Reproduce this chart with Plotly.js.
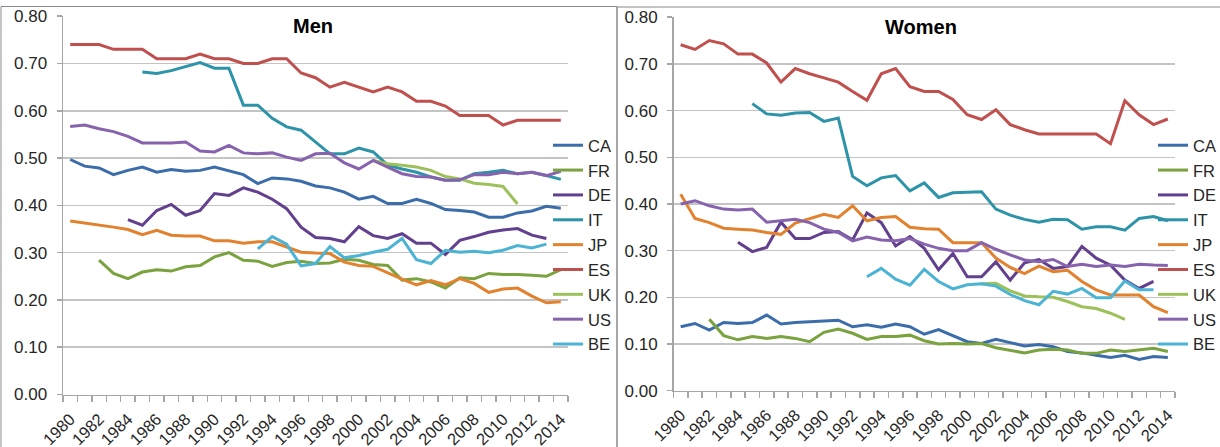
<!DOCTYPE html>
<html>
<head>
<meta charset="utf-8">
<script src="https://cdn.plot.ly/plotly-3.0.1.min.js"></script>
<style>
  html, body { margin: 0; padding: 0; background: #ffffff; }
  #chart { width: 1220px; height: 447px; }
</style>
</head>
<body>
<div id="chart"></div>
<script>
// ---- categories ----
const years = [1980,1981,1982,1983,1984,1985,1986,1987,1988,1989,
               1990,1991,1992,1993,1994,1995,1996,1997,1998,1999,
               2000,2001,2002,2003,2004,2005,2006,2007,2008,2009,
               2010,2011,2012,2013,2014];
const yearTicks = [1980,1982,1984,1986,1988,1990,1992,1994,1996,1998,
                   2000,2002,2004,2006,2008,2010,2012,2014];
const countries = ['CA','FR','DE','IT','JP','ES','UK','US','BE'];

// ---- Men ----
const CA_men = [0.497,0.483,0.479,0.465,0.474,0.481,0.470,0.476,0.472,0.474,
                0.481,0.473,0.465,0.446,0.458,0.456,0.451,0.441,0.437,0.428,
                0.413,0.419,0.404,0.404,0.413,0.404,0.391,0.389,0.386,0.375,
                0.375,0.384,0.388,0.398,0.394];
const FR_men = [null,null,0.284,0.256,0.245,0.259,0.264,0.261,0.270,0.273,
                0.291,0.300,0.284,0.282,0.271,0.279,0.282,0.277,0.278,0.286,
                0.284,0.275,0.273,0.242,0.245,0.238,0.225,0.247,0.245,0.256,
                0.254,0.254,0.252,0.250,0.264];
const DE_men = [null,null,null,null,0.370,0.358,0.389,0.402,0.379,0.389,
                0.425,0.421,0.437,0.428,0.413,0.393,0.354,0.332,0.330,0.323,
                0.355,0.336,0.330,0.340,0.320,0.320,0.296,0.326,0.334,0.343,
                0.348,0.351,0.337,0.330,null];
const IT_men = [null,null,null,null,null,0.682,0.679,0.685,0.694,0.702,
                0.690,0.690,0.612,0.612,0.584,0.566,0.559,0.534,0.509,0.509,
                0.521,0.513,0.485,0.477,0.470,0.460,0.453,0.453,0.467,0.470,
                0.474,0.467,0.470,0.463,0.455];
const JP_men = [0.367,0.363,0.359,0.354,0.349,0.338,0.347,0.337,0.335,0.335,
                0.325,0.325,0.320,0.323,0.323,0.312,0.301,0.299,0.298,0.280,
                0.273,0.271,0.257,0.244,0.232,0.241,0.232,0.245,0.235,0.216,
                0.223,0.225,0.208,0.194,0.196];
const ES_men = [0.74,0.74,0.74,0.73,0.73,0.73,0.71,0.71,0.71,0.72,
                0.71,0.71,0.70,0.70,0.71,0.71,0.68,0.67,0.65,0.66,
                0.65,0.64,0.65,0.64,0.62,0.62,0.61,0.59,0.59,0.59,
                0.57,0.58,0.58,0.58,0.58];
const UK_men = [null,null,null,null,null,null,null,null,null,null,
                null,null,null,null,null,null,null,null,null,null,
                null,0.495,0.488,0.485,0.481,0.474,0.461,0.456,0.447,0.444,
                0.440,0.403,null,null,null];
const US_men = [0.567,0.570,0.562,0.556,0.546,0.532,0.532,0.532,0.534,0.515,
                0.513,0.527,0.511,0.509,0.511,0.502,0.495,0.509,0.510,0.490,
                0.477,0.495,0.481,0.467,0.461,0.460,0.453,0.454,0.465,0.465,
                0.470,0.467,0.470,0.463,0.472];
const BE_men = [null,null,null,null,null,null,null,null,null,null,
                null,null,null,0.308,0.334,0.318,0.272,0.277,0.313,0.289,
                0.294,0.301,0.307,0.330,0.285,0.277,0.305,0.301,0.303,0.300,
                0.305,0.315,0.310,0.318,null];

// ---- Women ----
const CA_women = [0.137,0.144,0.130,0.146,0.144,0.146,0.162,0.143,0.146,0.148,
                  0.149,0.151,0.137,0.141,0.136,0.143,0.137,0.121,0.131,0.118,
                  0.105,0.101,0.110,0.103,0.096,0.099,0.094,0.084,0.081,0.076,
                  0.071,0.076,0.067,0.073,0.071];
const FR_women = [null,null,0.153,0.118,0.109,0.116,0.112,0.116,0.112,0.105,
                  0.125,0.132,0.123,0.110,0.116,0.116,0.119,0.107,0.100,0.101,
                  0.100,0.101,0.092,0.087,0.081,0.087,0.089,0.087,0.080,0.080,
                  0.087,0.084,0.087,0.091,0.084];
const DE_women = [null,null,null,null,0.318,0.298,0.307,0.361,0.326,0.326,
                  0.339,0.341,0.323,0.381,0.360,0.310,0.330,0.305,0.259,0.294,
                  0.244,0.244,0.276,0.237,0.274,0.281,0.262,0.266,0.309,0.284,
                  0.269,0.237,0.219,0.234,null];
const IT_women = [null,null,null,null,null,0.615,0.593,0.590,0.595,0.596,
                  0.577,0.584,0.459,0.439,0.456,0.461,0.428,0.445,0.414,0.424,
                  0.425,0.426,0.389,0.376,0.367,0.361,0.367,0.366,0.346,0.351,
                  0.351,0.344,0.369,0.373,0.364];
const JP_women = [0.421,0.369,0.360,0.348,0.346,0.344,0.339,0.335,0.359,0.369,
                  0.378,0.371,0.396,0.364,0.371,0.373,0.350,0.347,0.346,0.317,
                  0.317,0.317,0.284,0.264,0.251,0.267,0.255,0.258,0.234,0.216,
                  0.205,0.205,0.205,0.180,0.167];
const ES_women = [0.741,0.731,0.750,0.743,0.721,0.721,0.702,0.661,0.690,0.679,
                  0.670,0.661,0.641,0.622,0.679,0.690,0.651,0.641,0.641,0.624,
                  0.591,0.581,0.602,0.570,0.559,0.550,0.550,0.550,0.550,0.550,
                  0.529,0.621,0.591,0.570,0.582];
const UK_women = [null,null,null,null,null,null,null,null,null,null,
                  null,null,null,null,null,null,null,null,null,null,
                  null,0.229,0.230,0.214,0.203,0.201,0.200,0.191,0.180,0.176,
                  0.166,0.153,null,null,null];
const US_women = [0.400,0.407,0.396,0.389,0.387,0.389,0.361,0.364,0.367,0.360,
                  0.346,0.339,0.321,0.329,0.323,0.321,0.326,0.314,0.305,0.300,
                  0.300,0.317,0.303,0.291,0.280,0.276,0.281,0.266,0.271,0.266,
                  0.269,0.266,0.271,0.269,0.268];
const BE_women = [null,null,null,null,null,null,null,null,null,null,
                  null,null,null,0.244,0.262,0.239,0.226,0.260,0.234,0.218,
                  0.227,0.229,0.224,0.206,0.193,0.184,0.213,0.207,0.219,0.199,
                  0.199,0.235,0.216,0.216,null];

// ---- styling ----
const colors = {
  CA: '#3b6daa', FR: '#7aa23f', DE: '#62408e', IT: '#2c93a8', JP: '#e2822f',
  ES: '#c0504d', UK: '#9dc15a', US: '#8763ae', BE: '#4bb3d3'
};
const men = {CA: CA_men, FR: FR_men, DE: DE_men, IT: IT_men, JP: JP_men,
             ES: ES_men, UK: UK_men, US: US_men, BE: BE_men};
const women = {CA: CA_women, FR: FR_women, DE: DE_women, IT: IT_women, JP: JP_women,
               ES: ES_women, UK: UK_women, US: US_women, BE: BE_women};

const traces = [];
countries.forEach(c => {
  traces.push({
    type: 'scatter', mode: 'lines', name: c, x: years, y: men[c],
    xaxis: 'x', yaxis: 'y', legend: 'legend', legendgroup: 'm' + c,
    line: {color: colors[c], width: 3}, connectgaps: false, hoverinfo: 'x+y+name'
  });
});
countries.forEach(c => {
  traces.push({
    type: 'scatter', mode: 'lines', name: c, x: years, y: women[c],
    xaxis: 'x2', yaxis: 'y2', legend: 'legend2', legendgroup: 'w' + c,
    line: {color: colors[c], width: 3}, connectgaps: false, hoverinfo: 'x+y+name'
  });
});

const W = 1220, H = 447;
const FONT = 'Liberation Sans, Arial, Helvetica, sans-serif';
const yTickFont = {family: FONT, size: 17, color: '#262626'};
const xTickFont = {family: FONT, size: 16.5, color: '#262626'};

function xAxis(left, right, anchor) {
  return {
    domain: [left / W, right / W], anchor: anchor,
    range: [1979.5, 2014.5], tickmode: 'array', tickvals: yearTicks,
    ticktext: yearTicks.map(String), tickangle: -45, ticks: '',
    ticklabelstandoff: 7,
    tickfont: xTickFont, showgrid: false, zeroline: false,
    showline: true, linecolor: '#a6a6a6', linewidth: 1.5,
    minor: {ticks: 'outside', tick0: 1979.5, dtick: 1, ticklen: 6,
            tickcolor: '#a6a6a6', tickwidth: 1.5, showgrid: false},
    fixedrange: true
  };
}
function yAxis(bottomPx, topPx, anchor) {
  return {
    domain: [(H - bottomPx) / H, (H - topPx) / H], anchor: anchor,
    range: [0, 0.8005], tick0: 0, dtick: 0.1, tickformat: '.2f',
    tickfont: yTickFont, showgrid: true, gridcolor: '#c4c4c4', gridwidth: 1.5,
    zeroline: false, showline: true, linecolor: '#a6a6a6', linewidth: 1.5,
    ticks: 'outside', ticklen: 5, tickcolor: '#a6a6a6', tickwidth: 1.5,
    ticklabelstandoff: 6, fixedrange: true
  };
}
function legendAt(xPx, topPx) {
  return {
    x: xPx / W, xanchor: 'left', y: (H - topPx) / H, yanchor: 'top',
    bgcolor: 'rgba(0,0,0,0)', borderwidth: 0,
    font: {family: FONT, size: 16.5, color: '#262626'},
    tracegroupgap: 0.4, itemwidth: 30, itemclick: false, itemdoubleclick: false
  };
}

const layout = {
  width: W, height: H,
  margin: {l: 0, r: 0, t: 0, b: 0, autoexpand: false},
  paper_bgcolor: '#ffffff', plot_bgcolor: 'rgba(0,0,0,0)',
  font: {family: FONT, color: '#262626'},
  showlegend: true,
  xaxis: xAxis(63, 568, 'y'),
  yaxis: yAxis(394.5, 16, 'x'),
  xaxis2: xAxis(673.5, 1175, 'y2'),
  yaxis2: yAxis(390.7, 17, 'x2'),
  legend: legendAt(548, 128),
  legend2: legendAt(1153, 128),
  annotations: [
    {text: '<b>Men</b>', xref: 'paper', yref: 'paper', x: 313 / W, y: (H - 26) / H,
     showarrow: false, xanchor: 'center', yanchor: 'middle',
     font: {family: FONT, size: 20, color: '#000000'}},
    {text: '<b>Women</b>', xref: 'paper', yref: 'paper', x: 921 / W, y: (H - 27) / H,
     showarrow: false, xanchor: 'center', yanchor: 'middle',
     font: {family: FONT, size: 20, color: '#000000'}}
  ],
  shapes: [
    {type: 'rect', xref: 'paper', yref: 'paper', x0: 1 / W, x1: 617 / W,
     y0: -0.05, y1: (H - 6.5) / H, line: {color: '#8a8a8a', width: 1}, layer: 'below'},
    {type: 'rect', xref: 'paper', yref: 'paper', x0: 617 / W, x1: 1.05,
     y0: -0.05, y1: (H - 7) / H, line: {color: '#8a8a8a', width: 1}, layer: 'below'}
  ]
};

Plotly.newPlot('chart', traces, layout, {displayModeBar: false, staticPlot: true});
</script>
</body>
</html>
